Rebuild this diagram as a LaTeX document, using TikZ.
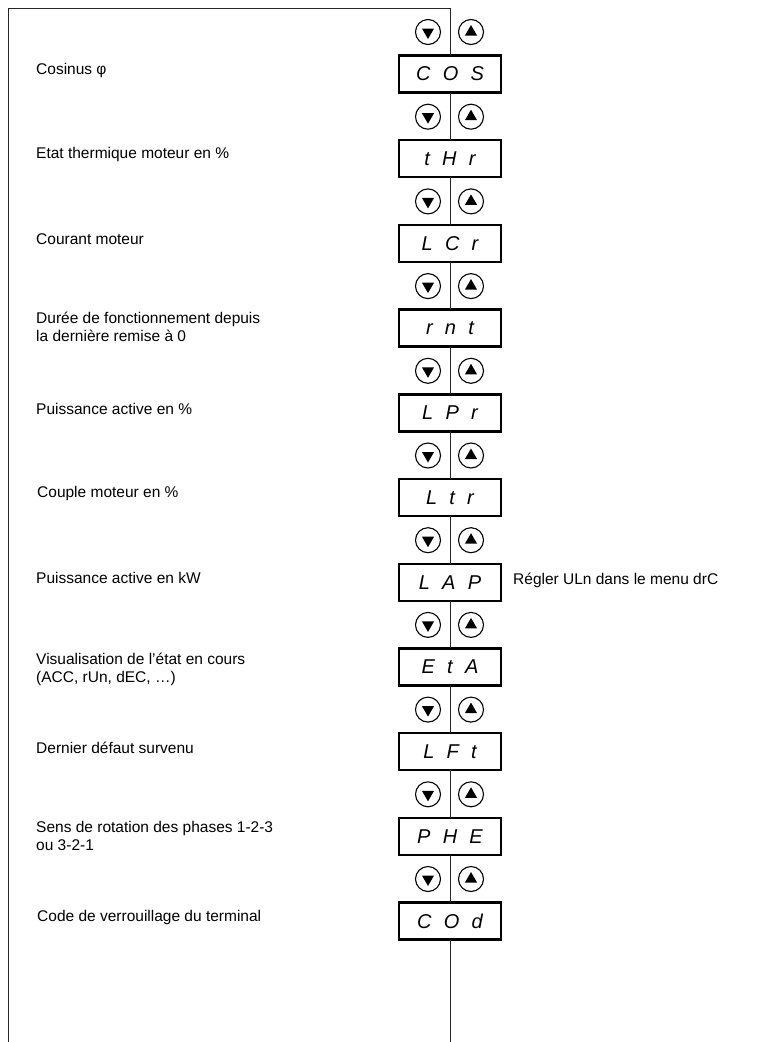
\documentclass[tikz,border=0pt]{standalone}
\usepackage{fontspec}
\setmainfont{Liberation Sans}
\newfontfamily\dispfont[WordSpace=2.2]{Liberation Sans}
\usetikzlibrary{positioning, shapes.geometric}

\begin{document}
\begin{tikzpicture}[x=1pt, y=-1pt,
  disp/.style={rectangle, draw=black, line width=2.4pt,
    minimum width=102pt, minimum height=37pt, inner sep=0pt, outer sep=0pt,
    font=\dispfont\itshape\fontsize{20}{20}\selectfont},
  lbl/.style={anchor=west, align=left, inner sep=0pt,
    font=\fontsize{15.5}{18}\selectfont},
  note/.style={anchor=west, inner sep=0pt, font=\fontsize{15.5}{18}\selectfont},
  link/.style={line width=0.9pt, black!85},
  btn/.style={circle, draw=black, line width=1.1pt, minimum size=25pt, inner sep=0pt},
  tridn/.style={regular polygon, regular polygon sides=3, shape border rotate=180,
    fill=black, minimum size=14pt, inner sep=0pt},
  triup/.style={regular polygon, regular polygon sides=3,
    fill=black, minimum size=14pt, inner sep=0pt},
]
\useasboundingbox (0,0) rectangle (774,1042);
% ====== DISPLAYS ======
\node[disp] (cos) at (450,74) {C O S};
\node[disp] (thr) at (450,158.7) {t H r};
\node[disp] (lcr) at (450,243.4) {L C r};
\node[disp] (rnt) at (450,328.1) {r n t};
\node[disp] (lpr) at (450,412.8) {L P r};
\node[disp] (ltr) at (450,497.5) {L t r};
\node[disp] (lap) at (450,582.2) {L A P};
\node[disp] (eta) at (450,666.9) {E t A};
\node[disp] (lft) at (450,751.6) {L F t};
\node[disp] (phe) at (450,836.3) {P H E};
\node[disp] (cod) at (450,921) {C O d};
%
% ====== LABELS ======
\node[lbl] (l_cos) at (36,70) {Cosinus φ};
\node[lbl] (l_thr) at (36,154.7) {Etat thermique moteur en \%};
\node[lbl] (l_lcr) at (36,239.4) {Courant moteur};
\node[lbl] (l_rnt) at (36,327) {Durée de fonctionnement depuis\\la dernière remise à 0};
\node[lbl] (l_lpr) at (36,408.8) {Puissance active en \%};
\node[lbl] (l_ltr) at (37,493.5) {Couple moteur en \%};
\node[lbl] (l_lap) at (36,578.2) {Puissance active en kW};
\node[lbl] (l_eta) at (36,669) {Visualisation de l’état en cours\\(ACC, rUn, dEC, …)};
\node[lbl] (l_lft) at (36,747.6) {Dernier défaut survenu};
\node[lbl] (l_phe) at (36,835.5) {Sens de rotation des phases 1-2-3\\ou 3-2-1};
\node[lbl] (l_cod) at (37,917) {Code de verrouillage du terminal};
\node[note, right=12pt of lap, yshift=2pt] (n_lap) {Régler ULn dans le menu drC};
%
% ====== FRAME AND LINKS ======
\coordinate (frame_bl) at (8,1042);
\coordinate (frame_tr) at (450,8);
\coordinate (tail) at (450,1042);
\draw[link] (frame_bl) |- (frame_tr) -- (cos.north);
\draw[link] (cos) -- (thr);
\draw[link] (thr) -- (lcr);
\draw[link] (lcr) -- (rnt);
\draw[link] (rnt) -- (lpr);
\draw[link] (lpr) -- (ltr);
\draw[link] (ltr) -- (lap);
\draw[link] (lap) -- (eta);
\draw[link] (eta) -- (lft);
\draw[link] (lft) -- (phe);
\draw[link] (phe) -- (cod);
\draw[link] (cod) -- (tail);
%
% ====== KEYS ======
\foreach \i in {0,...,10} {
  \pgfmathsetmacro\ky{32+84.7*\i}
  \node[btn] (dn\i) at (428,\ky) {};
  \node[tridn] at (dn\i) {};
  \node[btn] (up\i) at (471,\ky) {};
  \node[triup] at (up\i) {};
}
\end{tikzpicture}
\end{document}
